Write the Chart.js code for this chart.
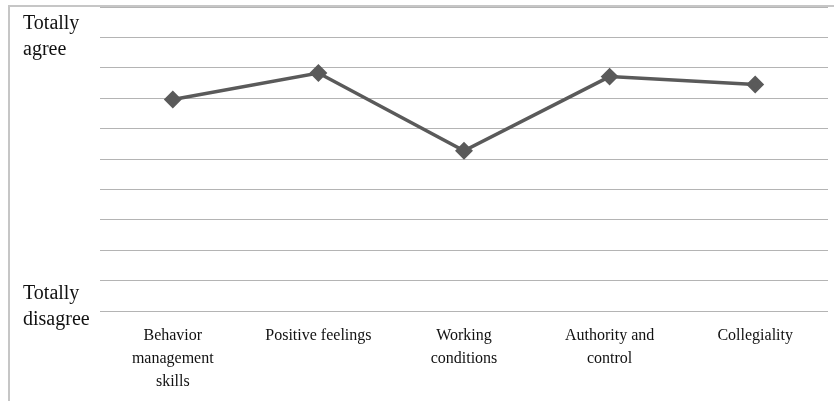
<!DOCTYPE html>
<html>
<head>
<meta charset="utf-8">
<script src="https://cdn.jsdelivr.net/npm/chart.js@4/dist/chart.umd.min.js"></script>
<style>
    html, body { margin: 0; padding: 0; background: #fff; overflow: hidden; }
    #wrap { position: relative; width: 834px; height: 401px; overflow: hidden; }
    #frame { position: absolute; left: 8px; top: 5px; width: 900px; height: 500px; border: 2px solid #c6c6c6; }
    #chart { position: absolute; left: 0; top: 0; }
    .ylab { position: absolute; left: 23px; font-family: "Liberation Serif", "Times New Roman", serif; font-size: 20px; line-height: 26px; color: #111; }
</style>
</head>
<body>
<div id="wrap">
    <div id="frame"></div>
    <canvas id="chart" width="834" height="401"></canvas>
    <div class="ylab" style="top: 9px;">Totally<br>agree</div>
    <div class="ylab" style="top: 279px;">Totally<br>disagree</div>
</div>
<script>
const categories = [
    ['Behavior', 'management', 'skills'],
    'Positive feelings',
    ['Working', 'conditions'],
    ['Authority and', 'control'],
    'Collegiality'
];
const scores = [6.96, 7.83, 5.27, 7.71, 7.45];
const yMin = 0;
const yMax = 10;

document.addEventListener('DOMContentLoaded', function() {
    const ctx = document.getElementById('chart').getContext('2d');

    new Chart(ctx, {
        type: 'line',
        data: {
            labels: categories,
            datasets: [{
                data: scores,
                borderColor: '#5a5a5a',
                backgroundColor: '#5a5a5a',
                borderWidth: 3.5,
                pointStyle: 'rectRot',
                pointRadius: 6.5,
                pointHoverRadius: 6.5,
                tension: 0
            }]
        },
        options: {
            responsive: false,
            devicePixelRatio: 1,
            animation: false,
            layout: { autoPadding: false, padding: { top: 7, right: 6, left: 0, bottom: 0 } },
            plugins: {
                legend: { display: false },
                tooltip: { enabled: false }
            },
            scales: {
                x: {
                    offset: true,
                    grid: { display: false, drawTicks: false },
                    border: { display: false },
                    ticks: {
                        color: '#111',
                        font: { family: '"Liberation Serif", "Times New Roman", serif', size: 16, lineHeight: 1.45 },
                        maxRotation: 0,
                        autoSkip: false,
                        padding: 13
                    },
                    afterFit: function(scale) { scale.height = 90; }
                },
                y: {
                    min: yMin,
                    max: yMax,
                    ticks: { display: false, stepSize: 1 },
                    grid: { color: '#b4b4b4', lineWidth: 1, drawTicks: false },
                    border: { display: false },
                    afterFit: function(scale) { scale.width = 100; }
                }
            }
        }
    });
});
</script>
</body>
</html>
